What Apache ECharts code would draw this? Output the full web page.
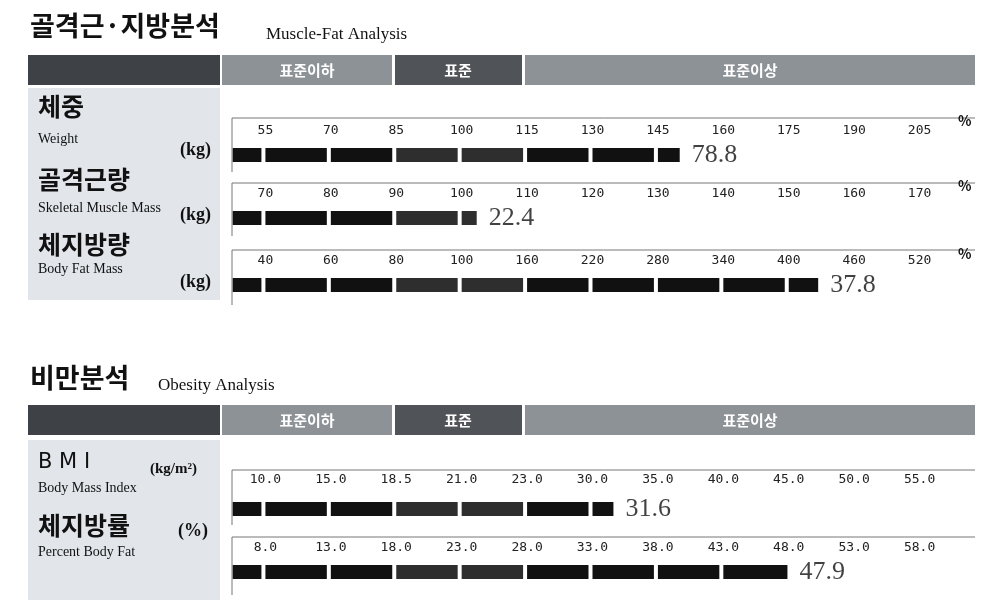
<!DOCTYPE html>
<html>
<head>
<meta charset="UTF-8">
<script src="https://cdn.jsdelivr.net/npm/echarts@6/dist/echarts.min.js"></script>
<style>
html,body{margin:0;padding:0;background:#fff;}
#main{width:988px;height:613px;}
</style>
</head>
<body>
<div id="main"></div>
<script>
// 각 행의 눈금 라벨
var weightTicks = ['55','70','85','100','115','130','145','160','175','190','205'];
var smmTicks = ['70','80','90','100','110','120','130','140','150','160','170'];
var fatTicks = ['40','60','80','100','160','220','280','340','400','460','520'];
var bmiTicks = ['10.0','15.0','18.5','21.0','23.0','30.0','35.0','40.0','45.0','50.0','55.0'];
var pbfTicks = ['8.0','13.0','18.0','23.0','28.0','33.0','38.0','43.0','48.0','53.0','58.0'];
// 막대 값 (눈금 단위) 과 표시 값
var barValues = [150, 102.3, 427, 31.6, 47.9];
var shownValues = ['78.8', '22.4', '37.8', '31.6', '47.9'];
var rowCenters = [155, 218, 285, 509, 572];
var allTicks = [weightTicks, smmTicks, fatTicks, bmiTicks, pbfTicks];

// 눈금 라벨 기준으로 값 -> 칸 위치
function toSlot(ticks, v) {
  var t = ticks.map(Number);
  for (var i = 0; i < t.length - 1; i++) {
    if (v <= t[i + 1]) return i + (v - t[i]) / (t[i + 1] - t[i]);
  }
  return t.length - 1;
}

var grids = [], xAxes = [], yAxes = [], series = [];
allTicks.forEach(function (ticks, r) {
  grids.push({left: 200, width: 786, top: rowCenters[r] - 15, height: 30});
  xAxes.push({
    type: 'value', gridIndex: r, position: 'top', min: -1, max: 11, interval: 1,
    axisLine: {show: false}, axisTick: {show: false}, splitLine: {show: false},
    axisLabel: {
      margin: r == 3 ? 8 : 3, fontSize: 13, color: '#222', fontFamily: 'DejaVu Sans Mono',
      formatter: function (v) { return (v >= 0 && v < ticks.length) ? ticks[v] : ''; }
    }
  });
  yAxes.push({type: 'category', gridIndex: r, data: [''], show: false});
  var end = toSlot(ticks, barValues[r]);
  var segs = [];
  var s = -0.5;
  while (s < end) {
    var e = Math.min(Math.floor(s + 1), end);
    if (s < 0) e = Math.min(0, end);
    segs.push([s, e, (s >= 2 && s < 4) ? '#2e2e2e' : '#111']);
    s = e;
  }
  series.push({
    type: 'custom', xAxisIndex: r, yAxisIndex: r, data: segs,
    renderItem: function (params, api) {
      var a = api.coord([api.value(0), 0]);
      var b = api.coord([api.value(1), 0]);
      var gap = api.value(1) === end ? 0 : 4;
      return {type: 'rect', shape: {x: a[0], y: a[1] - 7, width: b[0] - a[0] - gap, height: 14},
        style: {fill: segs[params.dataIndex][2]}};
    }
  });
  series.push({
    type: 'scatter', xAxisIndex: r, yAxisIndex: r, symbolSize: 0,
    data: [[end, 0]],
    label: {show: true, position: 'right', distance: 12, formatter: shownValues[r],
      fontSize: 26, color: '#111', fontFamily: 'Liberation Serif'}
  });
});

var g = [];
function txt(x, y, s, size, opt) {
  g.push(Object.assign({type: 'text', x: x, y: y, style: Object.assign({text: s, fontSize: size, fill: '#111',
    fontFamily: 'Noto Sans CJK KR', textVerticalAlign: 'middle'}, opt || {})}));
}
function rect(x, y, w, h, c) { g.push({type: 'rect', shape: {x: x, y: y, width: w, height: h}, style: {fill: c}}); }
function header(y) {
  rect(28, y, 192, 30, '#3e4246');
  rect(222, y, 170, 30, '#8d9297');
  rect(395, y, 127, 30, '#505458');
  rect(525, y, 450, 30, '#8d9297');
  txt(307, y + 15, '표준이하', 15, {fill: '#fff', fontWeight: 'bold', textAlign: 'center'});
  txt(458, y + 15, '표준', 15, {fill: '#fff', fontWeight: 'bold', textAlign: 'center'});
  txt(750, y + 15, '표준이상', 15, {fill: '#fff', fontWeight: 'bold', textAlign: 'center'});
}
// 골격근·지방분석
txt(30, 26, '골격근·지방분석', 27, {fontWeight: 'bold'});
txt(266, 35, 'Muscle-Fat Analysis', 17, {fontFamily: 'Liberation Serif'});
header(55);
rect(28, 88, 192, 212, '#e2e6eb');
rect(28, 440, 192, 160, '#e2e6eb');
// 행 테두리
[[118, 172], [183, 236], [250, 305], [470, 525], [537, 595]].forEach(function (p) {
  g.push({type: 'polyline', shape: {points: [[975, p[0]], [232, p[0]], [232, p[1]]]}, style: {stroke: '#777', lineWidth: 1, fill: null}});
});
txt(38, 106, '체중', 25, {fontWeight: 'bold'});
txt(38, 139, 'Weight', 14, {fontFamily: 'Liberation Serif'});
txt(180, 150, '(kg)', 18, {fontFamily: 'Liberation Serif', fontWeight: 'bold'});
txt(38, 179, '골격근량', 25, {fontWeight: 'bold'});
txt(38, 208, 'Skeletal Muscle Mass', 14, {fontFamily: 'Liberation Serif'});
txt(180, 215, '(kg)', 18, {fontFamily: 'Liberation Serif', fontWeight: 'bold'});
txt(38, 244, '체지방량', 25, {fontWeight: 'bold'});
txt(38, 269, 'Body Fat Mass', 14, {fontFamily: 'Liberation Serif'});
txt(180, 282, '(kg)', 18, {fontFamily: 'Liberation Serif', fontWeight: 'bold'});
txt(958, 121, '%', 14, {fontWeight: 'bold'});
txt(958, 186, '%', 14, {fontWeight: 'bold'});
txt(958, 254, '%', 14, {fontWeight: 'bold'});
// 비만분석
txt(30, 378, '비만분석', 27, {fontWeight: 'bold'});
txt(158, 386, 'Obesity Analysis', 17, {fontFamily: 'Liberation Serif'});
header(405);
txt(38, 463, 'B M I', 21, {fontFamily: 'DejaVu Sans'});
txt(150, 469, '(kg/m²)', 15, {fontFamily: 'Liberation Serif', fontWeight: 'bold'});
txt(38, 488, 'Body Mass Index', 14, {fontFamily: 'Liberation Serif'});
txt(38, 525, '체지방률', 25, {fontWeight: 'bold'});
txt(178, 531, '(%)', 18, {fontFamily: 'Liberation Serif', fontWeight: 'bold'});
txt(38, 552, 'Percent Body Fat', 14, {fontFamily: 'Liberation Serif'});

var chart = echarts.init(document.getElementById('main'));
chart.setOption({
  animation: false,
  grid: grids, xAxis: xAxes, yAxis: yAxes, series: series,
  graphic: {elements: g}
});
</script>
</body>
</html>
